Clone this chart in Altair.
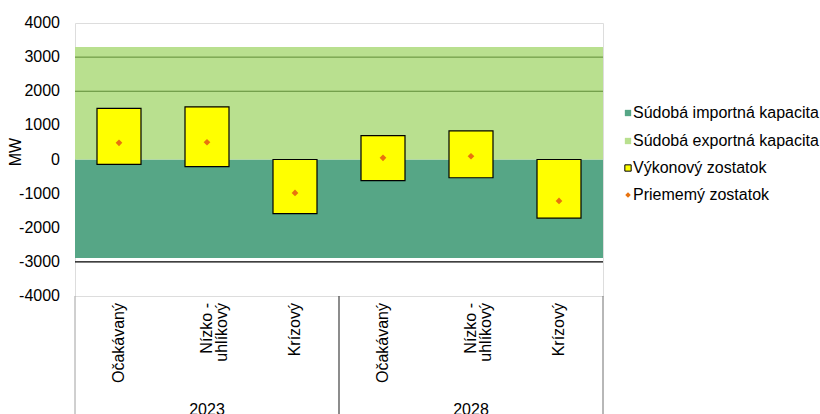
import altair as alt
import pandas as pd

# Scenario data (MW)
years = ["2023", "2023", "2023", "2028", "2028", "2028"]
scenarios = ["Očakávaný", "Nízko -\nuhlíkový", "Krízový"] * 2
bar_top = [1500, 1545, 0, 700, 840, 0]
bar_bottom = [-140, -210, -1585, -620, -535, -1720]
average = [490, 505, -980, 50, 95, -1215]

# Cross-border capacity bands (MW)
export_cap = 3300
import_cap = -2890
grid_values = [2000, 3000]
base_line = [-3000]
y_ticks = [-4000, -3000, -2000, -1000, 0, 1000, 2000, 3000, 4000]

legend_labels = [
    "Súdobá importná kapacita",
    "Súdobá exportná kapacita",
    "Výkonový zostatok",
    "Priememý zostatok",
]

FONT = "Liberation Sans"
W, H = 528, 273
C_IMPORT = "#56A686"
C_EXPORT = "#B9E08F"
C_BAR = "#FFFF00"
C_DOT = "#E8730F"

keys = [f"{y} {s}" for y, s in zip(years, scenarios)]
df = pd.DataFrame({
    "key": keys, "year": years, "scenario": scenarios,
    "top": bar_top, "bottom": bar_bottom, "avg": average,
})

xscale = alt.Scale(domain=keys, paddingInner=0, paddingOuter=0)
X = alt.X("key:N", scale=xscale, axis=None, sort=keys)
yscale = alt.Scale(domain=[-4000, 4000], nice=False, zero=False)


def Y(field):
    return alt.Y(field, scale=yscale, axis=None)


bands_df = pd.DataFrame({"lo": [import_cap, 0], "hi": [0, export_cap],
                         "band": ["import", "export"]})
bands = alt.Chart(bands_df).mark_rect().encode(
    x=alt.value(0), x2=alt.value(W),
    y=Y("lo:Q"), y2="hi:Q",
    color=alt.Color("band:N", scale=alt.Scale(domain=["import", "export"],
                                              range=[C_IMPORT, C_EXPORT]), legend=None),
)

# Value axis labels, placed through the y scale
tick_df = pd.DataFrame({"v": y_ticks, "lbl": [str(v) for v in y_ticks]})
y_labels = alt.Chart(tick_df).mark_text(
    align="right", baseline="middle", fontSize=16, font=FONT,
    color="black").encode(
    y=Y("v:Q"), x=alt.value(-15), text="lbl:N")

grid = alt.Chart(pd.DataFrame({"v": grid_values})).mark_rule(
    color="#5E8B37", strokeWidth=1).encode(
    y=Y("v:Q"), x=alt.value(0), x2=alt.value(W))

base = alt.Chart(pd.DataFrame({"v": base_line})).mark_rule(
    color="black", strokeWidth=1.3).encode(
    y=Y("v:Q"), x=alt.value(0), x2=alt.value(W))

bars = alt.Chart(df).mark_bar(
    width=alt.RelativeBandSize(0.5), color=C_BAR, stroke="black",
    strokeWidth=1.2).encode(
    x=X, y=Y("bottom:Q"), y2="top:Q")

dots = alt.Chart(df).mark_point(
    shape="diamond", filled=True, color=C_DOT, size=45, opacity=1).encode(
    x=X, y=Y("avg:Q"))

# Category axis: rotated scenario names, years, group separators
cat_labels = alt.Chart(df).mark_text(
    angle=270, align="right", baseline="middle", lineBreak="\n",
    fontSize=16, lineHeight=15, font=FONT, color="black").encode(
    x=X, y=alt.value(280), text="scenario:N")

year_df = df.iloc[[1, 4]]
year_labels = alt.Chart(year_df).mark_text(
    baseline="top", fontSize=16, font=FONT, color="black").encode(
    x=X, y=alt.value(379), text="year:N")

sep_df = df.iloc[[3]]
separator = alt.Chart(sep_df).mark_rule(color="#404040", strokeWidth=1.2).encode(
    x=alt.X("key:N", scale=xscale, axis=None, sort=keys, bandPosition=0),
    y=alt.value(H), y2=alt.value(400))

left_line = alt.Chart(sep_df).mark_rule(color="#A0A0A0").encode(
    x=alt.value(0), y=alt.value(H), y2=alt.value(400))
right_line = alt.Chart(sep_df).mark_rule(color="#707070").encode(
    x=alt.value(W), y=alt.value(H), y2=alt.value(400))

y_title = alt.Chart(pd.DataFrame({"t": ["MW"]})).mark_text(
    angle=270, align="center", baseline="middle", fontSize=16,
    font=FONT, color="black").encode(
    x=alt.value(-59), y=alt.value(129), text="t:N")

# Legend
leg_rows = [90, 118, 145, 172]
leg_x = 553
leg_layers = []
one = pd.DataFrame({"t": [0]})
leg_layers.append(alt.Chart(one).mark_square(
    color=C_IMPORT, size=40, opacity=1, filled=True).encode(
    x=alt.value(leg_x), y=alt.value(leg_rows[0])))
leg_layers.append(alt.Chart(one).mark_square(
    color=C_EXPORT, size=40, opacity=1, filled=True).encode(
    x=alt.value(leg_x), y=alt.value(leg_rows[1])))
leg_layers.append(alt.Chart(one).mark_square(
    fill=C_BAR, stroke="black", strokeWidth=1, size=40, opacity=1, filled=True).encode(
    x=alt.value(leg_x), y=alt.value(leg_rows[2])))
leg_layers.append(alt.Chart(one).mark_point(
    shape="diamond", color=C_DOT, size=30, opacity=1, filled=True).encode(
    x=alt.value(leg_x), y=alt.value(leg_rows[3])))
for lbl, ry in zip(legend_labels, leg_rows):
    leg_layers.append(alt.Chart(pd.DataFrame({"t": [lbl]})).mark_text(
        align="left", baseline="middle", fontSize=16, font=FONT,
        color="black").encode(
        x=alt.value(leg_x + 5), y=alt.value(ry), text="t:N"))

chart = alt.layer(
    bands, y_labels, grid, base, bars, dots, cat_labels, year_labels,
    separator, left_line, right_line, y_title, *leg_layers
).properties(
    width=W, height=H,
    autosize=alt.AutoSizeParams(type="none"),
    padding={"left": 75, "top": 23, "right": 217, "bottom": 118},
).configure_view(
    stroke="#A6A6A6", strokeWidth=1
).configure(font=FONT)

chart.save("out.html", embed_options={"renderer": "svg", "actions": False})
